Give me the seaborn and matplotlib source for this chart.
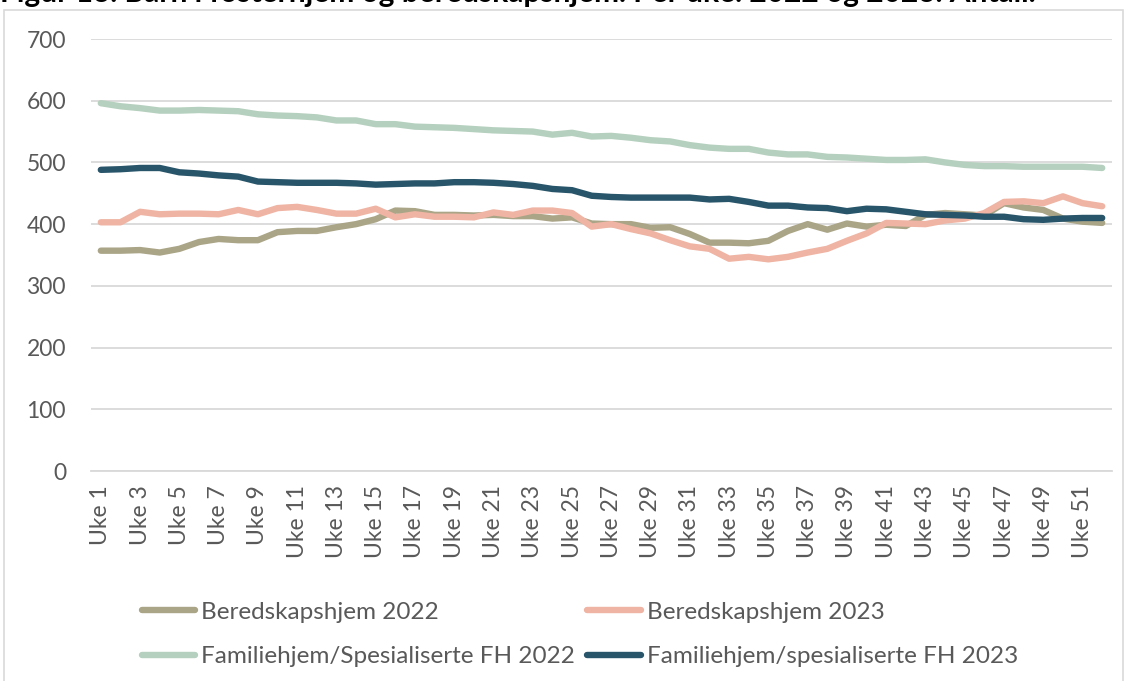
import numpy as np
import pandas as pd
import matplotlib
matplotlib.use("Agg")
import matplotlib.pyplot as plt
from matplotlib.lines import Line2D
from matplotlib.patches import Rectangle
import seaborn as sns

# ---------------- data ----------------
weeks = [f"Uke {i}" for i in range(1, 53)]

beredskap_2022 = [357, 357, 358, 354, 360, 371, 376, 374, 374, 387, 389, 389, 395, 400, 408, 422,
                  421, 415, 415, 414, 415, 413, 413, 409, 411, 401, 400, 400, 394, 395, 384, 370,
                  370, 369, 373, 389, 400, 391, 401, 396, 399, 397, 415, 418, 416, 414, 434, 427,
                  423, 409, 404, 402]
beredskap_2023 = [403, 403, 420, 416, 417, 417, 416, 423, 416, 426, 428, 423, 417, 417, 425, 411,
                  416, 412, 412, 411, 419, 415, 422, 422, 418, 396, 400, 392, 385, 374, 364, 360,
                  344, 347, 343, 347, 354, 360, 373, 385, 402, 401, 400, 406, 409, 418, 436, 437,
                  434, 445, 434, 429]
familie_2022 = [596, 591, 588, 584, 584, 585, 584, 583, 578, 576, 575, 573, 568, 568, 562, 562,
                558, 557, 556, 554, 552, 551, 550, 545, 548, 542, 543, 540, 536, 534, 528, 524,
                522, 522, 516, 513, 513, 509, 508, 506, 504, 504, 505, 500, 496, 494, 494, 493,
                493, 493, 493, 491]
familie_2023 = [488, 489, 491, 491, 484, 482, 479, 477, 469, 468, 467, 467, 467, 466, 464, 465,
                466, 466, 468, 468, 467, 465, 462, 457, 455, 446, 444, 443, 443, 443, 443, 440,
                441, 436, 430, 430, 427, 426, 421, 425, 424, 420, 416, 415, 414, 412, 412, 408,
                407, 409, 410, 410]

series_names = ["Beredskapshjem 2022", "Beredskapshjem 2023",
                "Familiehjem/Spesialiserte FH 2022", "Familiehjem/spesialiserte FH 2023"]
series_values = [beredskap_2022, beredskap_2023, familie_2022, familie_2023]
colors = ["#AAA587", "#EFB4A3", "#B5D0BE", "#28556A"]
y_ticks = [0, 100, 200, 300, 400, 500, 600, 700]
title = "Figur 13. Barn i fosterhjem og beredskapshjem. Per uke. 2022 og 2023. Antall."

frames = []
for name, vals in zip(series_names, series_values):
    frames.append(pd.DataFrame({"uke": weeks, "pos": np.arange(len(weeks)),
                                "antall": vals, "serie": name}))
df = pd.concat(frames, ignore_index=True)

# ---------------- figure ----------------
sns.set_theme(style="white")
plt.rcParams["font.family"] = ["Lato", "DejaVu Sans"]

W, H = 1128, 681
fig = plt.figure(figsize=(W / 100, H / 100), dpi=100)
fig.patch.set_facecolor("white")

def fx(px):
    return px / W

def fy(py):
    return 1 - py / H

# outer light border
fig.patches.append(Rectangle((fx(4), fy(690)), fx(1123) - fx(4), fy(10) - fy(690),
                             transform=fig.transFigure, fill=False,
                             edgecolor="#D9D9D9", linewidth=1.2, zorder=0))

# (cropped at the top edge, as in the reference)
fig.text(fx(0), fy(2), title, fontsize=21.5, fontweight="bold", color="black",
         ha="left", va="baseline")

ax = fig.add_axes([fx(91), fy(471), fx(1112) - fx(91), fy(39) - fy(471)])

sns.lineplot(data=df, x="pos", y="antall", hue="serie", hue_order=series_names,
             palette=colors, linewidth=4.6, legend=False, ax=ax, sort=False)
for ln in ax.lines:
    ln.set_solid_capstyle("round")
    ln.set_solid_joinstyle("round")

ax.set_xlim(-0.5, len(weeks) - 0.5)
ax.set_ylim(0, 700)
ax.set_yticks(y_ticks)
ax.set_yticklabels([str(v) for v in y_ticks], fontsize=16.5, color="#595959")
ax.set_xticks(np.arange(0, len(weeks), 2))
ax.set_xticklabels(weeks[::2], rotation=90, fontsize=16.5, color="#595959")
ax.tick_params(axis="both", length=0)
ax.tick_params(axis="y", pad=18)
ax.tick_params(axis="x", pad=10)
ax.set_xlabel("")
ax.set_ylabel("")
ax.grid(axis="y", color="#D9D9D9", linewidth=1.3)
ax.set_axisbelow(True)
for s in ["top", "right", "left"]:
    ax.spines[s].set_visible(False)
ax.spines["bottom"].set_color("#D9D9D9")
ax.spines["bottom"].set_linewidth(1.3)

handles = [Line2D([0], [0], color=c, lw=4.6, solid_capstyle="round") for c in colors]
order = [0, 2, 1, 3]
leg = fig.legend([handles[i] for i in order], [series_names[i] for i in order],
                 ncol=2, loc="upper left", bbox_to_anchor=(fx(120), fy(580)),
                 frameon=False, fontsize=17.5, handlelength=2.2, handletextpad=0.25,
                 columnspacing=0.5, labelspacing=0.96, borderpad=0.4)
for t in leg.get_texts():
    t.set_color("#595959")

fig.savefig("out.png", dpi=100)
